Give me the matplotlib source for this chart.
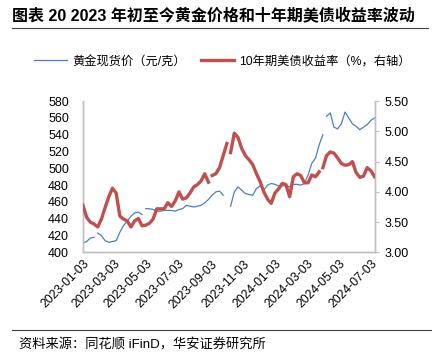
import numpy as np
import pandas as pd
import matplotlib
matplotlib.use("Agg")
import matplotlib.pyplot as plt
import matplotlib.dates as mdates
from matplotlib.lines import Line2D

plt.rcParams['font.family'] = ['Liberation Sans', 'Noto Sans CJK SC', 'DejaVu Sans']

# weekly readings, 2023-01-03 .. 2024-07-09
dates = pd.date_range("2023-01-03", periods=80, freq="7D")

gold = [411, 413, 417, 418, 423, 420, 414, 412, 413, 414,
        424, 432, 437, 443, 447, 448, 445, 452, 452, 451,
        449, 449, 450, 450, 450, 449, 451, 452, 456, 455,
        454, 455, 456, 459, 463, 468, 472, 473, 468, np.nan,
        455, 472, 478, 474, 470, 469, 468, 476, 479, 474,
        480, 482, 481, 479, 479, 480, 478, 481, 481, 480,
        482, 492, 506, 512, 528, 540, 562, 566, 549, 547,
        553, 567, 560, 553, 550, 546, 549, 552, 557, 560]

yield10 = [3.78, 3.58, 3.50, 3.47, 3.42, 3.55, 3.74, 3.92, 4.06, 3.98,
           3.60, 3.55, 3.52, 3.42, 3.52, 3.56, 3.44, 3.45, 3.48, 3.55,
           3.72, 3.72, 3.72, 3.82, 3.76, 3.85, 4.00, 3.88, 3.90, 3.98,
           4.08, 4.12, 4.18, 4.30, 4.16, 4.27, 4.30, 4.40, 4.60, 4.80,
           4.65, 4.97, 4.90, 4.72, 4.60, 4.53, 4.45, 4.30, 4.17, 4.00,
           3.88, 3.81, 3.98, 4.05, 4.14, 4.12, 3.92, 4.25, 4.30, 4.27,
           4.15, 4.15, 4.28, 4.25, 4.33, 4.40, 4.60, 4.66, 4.64, 4.56,
           4.47, 4.44, 4.45, 4.50, 4.32, 4.24, 4.26, 4.40, 4.35, 4.25]

# holiday breaks (no data)
gold_gaps = ["2023-01-25", "2023-05-01", "2024-04-04"]
yield_gaps = ["2023-09-04", "2023-10-09", "2024-03-29"]

gold_s = pd.concat([pd.Series(gold, index=dates),
                    pd.Series(np.nan, index=pd.to_datetime(gold_gaps))]).sort_index()
yield_s = pd.concat([pd.Series(yield10, index=dates),
                     pd.Series(np.nan, index=pd.to_datetime(yield_gaps))]).sort_index()

tick_dates = pd.to_datetime(["2023-01-03", "2023-03-03", "2023-05-03", "2023-07-03",
                             "2023-09-03", "2023-11-03", "2024-01-03", "2024-03-03",
                             "2024-05-03", "2024-07-03"])

blue = "#4A7EC7"
red = "#C0504D"
grey = "#BFBFBF"

fig = plt.figure(figsize=(4.32, 3.56), dpi=100)
ax = fig.add_axes([0.192, 0.291, 0.675, 0.425])
ax2 = ax.twinx()

ax.plot(gold_s.index, gold_s.values, color=blue, linewidth=0.9, zorder=2)
ax2.plot(yield_s.index, yield_s.values, color=red, linewidth=2.4, zorder=3)

ax.set_xlim(pd.Timestamp("2023-01-03"), pd.Timestamp("2024-07-09"))
ax.set_ylim(400, 580)
ax.set_yticks(np.arange(400, 581, 20))
ax2.set_ylim(3.0, 5.5)
ax2.set_yticks(np.arange(3.0, 5.51, 0.5))
ax2.yaxis.set_major_formatter(matplotlib.ticker.FormatStrFormatter("%.2f"))

ax.set_xticks(tick_dates)
ax.xaxis.set_major_formatter(mdates.DateFormatter("%Y-%m-%d"))
plt.setp(ax.get_xticklabels(), rotation=45, ha="right", rotation_mode="anchor")

for a in (ax, ax2):
    a.spines["top"].set_visible(False)
    for s in ("left", "right", "bottom"):
        a.spines[s].set_color(grey)
        a.spines[s].set_linewidth(1.0)
ax.tick_params(axis="y", length=0, labelsize=9, pad=10)
ax.tick_params(axis="x", length=0, labelsize=8.7, pad=4)
ax2.tick_params(axis="y", length=3, color=grey, labelsize=9, pad=4)

# legend
handles = [Line2D([], [], color=blue, linewidth=0.9),
           Line2D([], [], color=red, linewidth=2.4)]
fig.legend(handles, ["黄金现货价（元/克）", "10年期美债收益率（%，右轴）"],
           loc="center", bbox_to_anchor=(0.515, 0.828), ncol=2, frameon=False,
           fontsize=8.8, handlelength=2.7, columnspacing=1.3, handletextpad=0.4)

# title and source
fig.text(0.028, 0.957, "图表 20 2023 年初至今黄金价格和十年期美债收益率波动",
         fontsize=11.5, fontweight="bold", va="center", ha="left")
fig.add_artist(Line2D([0.028, 0.99], [0.921, 0.921], color="#404040", linewidth=0.8))
fig.add_artist(Line2D([0.028, 1.0], [0.073, 0.073], color="#404040", linewidth=0.8))
fig.text(0.045, 0.03, "资料来源：同花顺 iFinD，华安证券研究所", fontsize=9.5,
         va="center", ha="left")

fig.savefig("out.png", dpi=100)
